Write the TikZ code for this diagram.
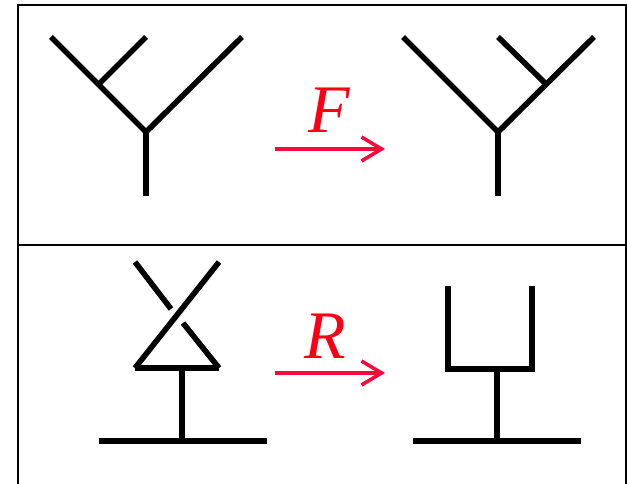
\documentclass[tikz,border=0pt]{standalone}
\usepackage{fontspec}
\setmainfont{Liberation Serif}
\usetikzlibrary{arrows.meta}
\definecolor{arrowred}{RGB}{250,10,60}
\definecolor{labelred}{RGB}{250,0,20}
\begin{document}
\begin{tikzpicture}[x=1pt,y=-1pt,
  frame/.style={line width=2pt,black},
  wire/.style={line width=5.6pt,black,line cap=butt,line join=miter},
  move/.style={line width=3.6pt,arrowred,-{Straight Barb[length=20pt,width=24pt,line width=3.6pt]}},
  lbl/.style={font=\fontsize{68}{68}\selectfont\itshape,text=labelred,inner sep=0pt}]
\useasboundingbox (0,0) rectangle (627,484);
% frame
\coordinate (f1) at (18,484);
\coordinate (f2) at (18,5);
\coordinate (f3) at (626,5);
\coordinate (f4) at (626,484);
\coordinate (m1) at (18,245);
\coordinate (m2) at (626,245);
\draw[frame] (f1) -- (f2) -- (f3) -- (f4);
\draw[frame] (m1) -- (m2);
% top-left tree
\coordinate (a0) at (146,196);
\coordinate (aj) at (146,132);
\coordinate (al) at (51,37);
\coordinate (ar) at (242,37);
\coordinate (ai) at (99,84);
\coordinate (am) at (146,37);
\draw[wire] (al) -- (aj) -- (ar);
\draw[wire] (aj) -- (a0);
\draw[wire] (ai) -- (am);
% top-right tree
\coordinate (b0) at (498,196);
\coordinate (bj) at (498,132);
\coordinate (bl) at (403,37);
\coordinate (br) at (594,37);
\coordinate (bi) at (546,84);
\coordinate (bm) at (498,37);
\draw[wire] (bl) -- (bj) -- (br);
\draw[wire] (bj) -- (b0);
\draw[wire] (bi) -- (bm);
% F arrow
\coordinate (fs) at (275,149);
\coordinate (fe) at (385,149);
\draw[move] (fs) -- (fe);
\node[lbl,anchor=base] (F) at (329,133) {F};
% bottom-left crossing
\coordinate (cl) at (135,368);
\coordinate (cr) at (219,368);
\coordinate (ctl) at (135,262);
\coordinate (ctr) at (219,262);
\coordinate (cg1) at (171,309);
\coordinate (cg2) at (183,323);
\coordinate (cs) at (182,368);
\coordinate (cb) at (182,441);
\coordinate (cbl) at (99,441);
\coordinate (cbr) at (267,441);
\draw[wire] (ctr) -- (cl);
\draw[wire] (ctl) -- (cg1);
\draw[wire] (cg2) -- (cr);
\draw[wire] (cl) -- (cr);
\draw[wire] (cs) -- (cb);
\draw[wire] (cbl) -- (cbr);
% R arrow
\coordinate (rs) at (275,373);
\coordinate (re) at (385,373);
\draw[move] (rs) -- (re);
\node[lbl,anchor=base] (R) at (325,358) {R};
% bottom-right U
\coordinate (ul) at (448,286);
\coordinate (ulb) at (448,369);
\coordinate (urb) at (532,369);
\coordinate (ur) at (532,286);
\coordinate (us) at (497,369);
\coordinate (ub) at (497,441);
\coordinate (ubl) at (413,441);
\coordinate (ubr) at (581,441);
\draw[wire] (ul) -- (ulb) -- (urb) -- (ur);
\draw[wire] (us) -- (ub);
\draw[wire] (ubl) -- (ubr);
\end{tikzpicture}
\end{document}
